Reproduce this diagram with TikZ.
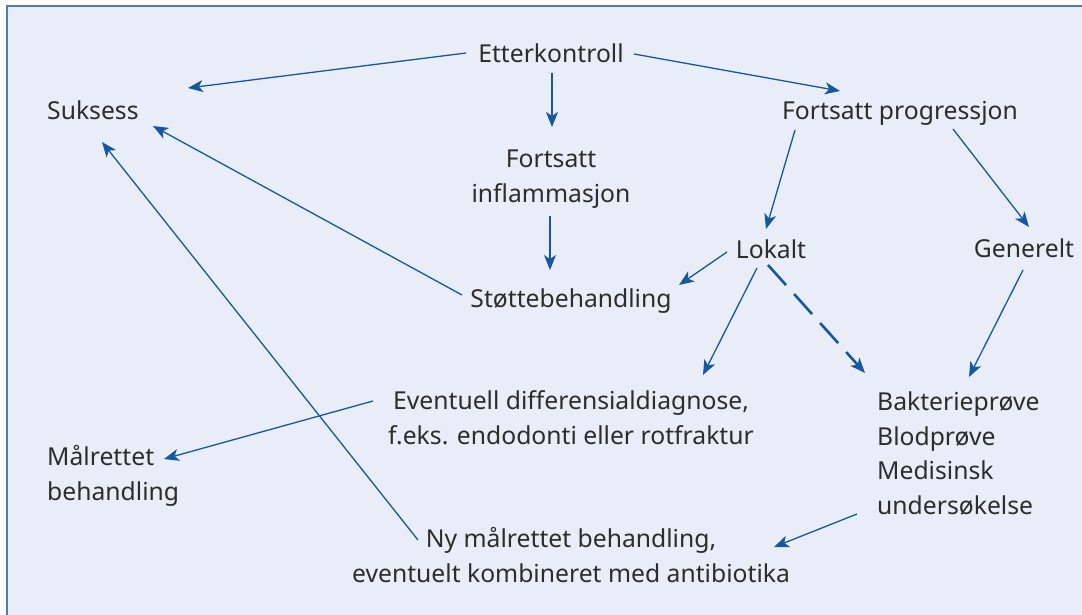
\documentclass[tikz,border=0pt]{standalone}
\usepackage{fontspec}
\setmainfont{Noto Sans}
\usetikzlibrary{arrows.meta}
\definecolor{bgc}{RGB}{233,237,247}
\definecolor{framec}{RGB}{74,125,181}
\definecolor{arrc}{RGB}{22,88,160}
\definecolor{txtc}{RGB}{45,45,45}
\begin{document}
\begin{tikzpicture}[x=1pt,y=-1pt,
  lbl/.style={font=\fontsize{24.7}{34.5}\selectfont, text=txtc, inner sep=0pt},
  arr/.style={draw=arrc, line width=1.3pt, -{Stealth[length=15pt,width=12pt,inset=4pt]}},
  dasharr/.style={arr, line width=2.6pt, dash pattern=on 27pt off 12pt}]
\useasboundingbox (0,0) rectangle (1082,615);
\fill[white] (0,0) rectangle (1082,615);
\begin{scope}
  \clip (0,0) rectangle (1082,615);
  \draw[framec, fill=bgc, line width=2pt] (7,6) rectangle (1095,630);
\end{scope}

\node[lbl, anchor=base] (etter) at (551,63) {Etterkontroll};
\node[lbl, anchor=base west] (suk) at (47,120) {Suksess};
\node[lbl, anchor=base] (prog) at (900,120) {Fortsatt progressjon};
\node[lbl, anchor=base, align=center] (infl) at (551,202) {Fortsatt\\inflammasjon};
\node[lbl, anchor=base] (stotte) at (571,307) {Støttebehandling};
\node[lbl, anchor=base] (lok) at (771,258) {Lokalt};
\node[lbl, anchor=base] (gen) at (1024,257) {Generelt};
\node[lbl, anchor=base, align=center] (diff) at (571,444) {Eventuell differensialdiagnose,\\f.eks. endodonti eller rotfraktur};
\node[lbl, anchor=base west, align=left] (malr) at (47,500) {Målrettet\\behandling};
\node[lbl, anchor=base west, align=left] (bakt) at (877,514) {Bakterieprøve\\Blodprøve\\Medisinsk\\undersøkelse};
\node[lbl, anchor=base, align=center] (ny) at (571,582) {Ny målrettet behandling,\\eventuelt kombineret med antibiotika};

\draw[arr] ([shift={(-85,-10)}]etter.base) -- ([shift={(141,-32)}]suk.base west);
\draw[arr] ([shift={(83,-9)}]etter.base) -- ([shift={(-60,-29)}]prog.base);
\draw[arr] ([shift={(1,10)}]etter.base) -- ([shift={(1,-75)}]infl.base);
\draw[arr] ([shift={(-1,14)}]infl.base) -- ([shift={(-21,-37)}]stotte.base);
\draw[arr] ([shift={(-105,10)}]prog.base) -- ([shift={(-5,-29)}]lok.base);
\draw[arr] ([shift={(53,9)}]prog.base) -- ([shift={(5,-30)}]gen.base);
\draw[arr] ([shift={(-44,-6)}]lok.base) -- ([shift={(108,-22)}]stotte.base);
\draw[arr] ([shift={(-14,10)}]lok.base) -- ([shift={(132,-69)}]diff.base);
\draw[dasharr] ([shift={(-3,7)}]lok.base) -- ([shift={(-12,-141)}]bakt.base west);
\draw[arr] ([shift={(-1,13)}]gen.base) -- ([shift={(92,-137)}]bakt.base west);
\draw[arr] ([shift={(-109,-12)}]stotte.base) -- ([shift={(106,6)}]suk.base west);
\draw[arr] ([shift={(-198,-43)}]diff.base) -- ([shift={(117,-41)}]malr.base west);
\draw[arr] ([shift={(-153,-42)}]ny.base) -- ([shift={(55,22)}]suk.base west);
\draw[arr] ([shift={(-20,0)}]bakt.base west) -- ([shift={(203,-35)}]ny.base);
\end{tikzpicture}
\end{document}
